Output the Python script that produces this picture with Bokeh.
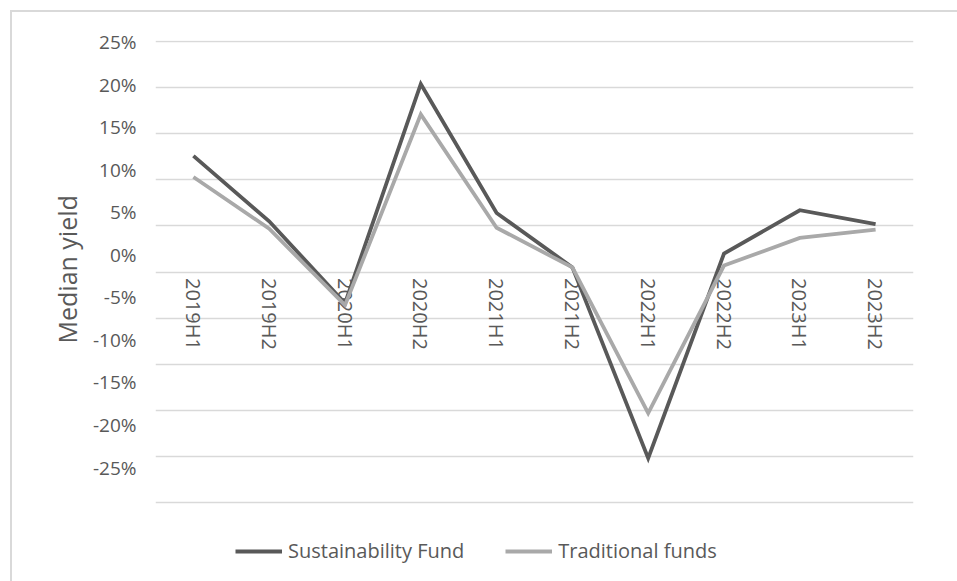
from bokeh.plotting import figure
from bokeh.models import (Range1d, LinearAxis, FixedTicker, PrintfTickFormatter,
                          Legend, LegendItem, ColumnDataSource, Title)
from bokeh.core.properties import value
from bokeh.embed import file_html
from bokeh.resources import INLINE

# ---- data (median yield, %) ----
periods = ["2019H1", "2019H2", "2020H1", "2020H2", "2021H1",
           "2021H2", "2022H1", "2022H2", "2023H1", "2023H2"]
sustainability_fund = [12.6, 5.5, -3.4, 20.4, 6.4, 0.5, -20.2, 2.0, 6.7, 5.2]
traditional_funds = [10.3, 4.7, -3.6, 17.1, 4.8, 0.5, -15.3, 0.7, 3.7, 4.6]
y_ticks = [-25, -20, -15, -10, -5, 0, 5, 10, 15, 20, 25]

FONT = "Open Sans"
TXT = "#595959"
DARK = "#595959"
LIGHT = "#a9a9a9"
GRID = "#d9d9d9"

border_css = {
    "background-image": "linear-gradient(#d9d9d9, #d9d9d9), linear-gradient(#d9d9d9, #d9d9d9)",
    "background-size": "2px 100%, 100% 2px",
    "background-position": "10px 10px, 10px 10px",
    "background-repeat": "no-repeat",
}

# frame runs to the bottom edge so the legend can sit inside it
p = figure(width=957, height=581, x_range=periods, y_range=Range1d(-33.57, 25.11),
           output_backend="svg", toolbar_location=None,
           min_border_left=155, min_border_right=44,
           min_border_top=40, min_border_bottom=0,
           styles=border_css)
p.xaxis.visible = False
p.yaxis.visible = False
p.xgrid.visible = False
p.ygrid.ticker = FixedTicker(ticks=y_ticks)
p.ygrid.grid_line_color = GRID
p.ygrid.grid_line_width = 1.3
p.outline_line_color = None
p.background_fill_color = "white"
p.border_fill_alpha = 0

# value axis (labels as placed in the original picture)
p.extra_y_ranges = {"lab": Range1d(-38.39, 25.18)}
yax = LinearAxis(y_range_name="lab", ticker=FixedTicker(ticks=y_ticks),
                 formatter=PrintfTickFormatter(format="%d%%"))
yax.axis_line_color = None
yax.major_tick_line_color = None
yax.minor_tick_line_color = None
yax.major_label_standoff = 13
yax.major_label_text_font = FONT
yax.major_label_text_font_size = "19px"
yax.major_label_text_color = TXT
p.add_layout(yax, "left")

ytitle = Title(text="Median yield", align="left", offset=238, standoff=12,
               text_font=FONT, text_font_size="25px", text_font_style="normal",
               text_color=TXT)
p.add_layout(ytitle, "left")

# category labels sitting on the zero line
lab_src = ColumnDataSource(dict(x=periods, y=[0] * len(periods), t=periods))
p.text(x="x", y="y", text="t", source=lab_src, angle=-1.5707963,
       text_align="left", text_baseline="middle", y_offset=6,
       text_font=value(FONT), text_font_size="20px", text_color=TXT)

r1 = p.line(periods, sustainability_fund, line_color=DARK, line_width=3.8,
            line_join="miter")
r2 = p.line(periods, traditional_funds, line_color=LIGHT, line_width=3.8,
            line_join="miter")

legend = Legend(items=[LegendItem(label="Sustainability Fund", renderers=[r1]),
                       LegendItem(label="Traditional funds", renderers=[r2])],
                location=(80, 17), orientation="horizontal")
legend.glyph_width = 47
legend.glyph_height = 20
legend.label_height = 20
legend.label_standoff = 6
legend.spacing = 41
legend.padding = 0
legend.margin = 0
legend.border_line_color = None
legend.background_fill_alpha = 0
legend.label_text_font = FONT
legend.label_text_font_size = "20px"
legend.label_text_color = TXT
p.add_layout(legend)

open("out.html", "w").write(file_html(p, INLINE))
